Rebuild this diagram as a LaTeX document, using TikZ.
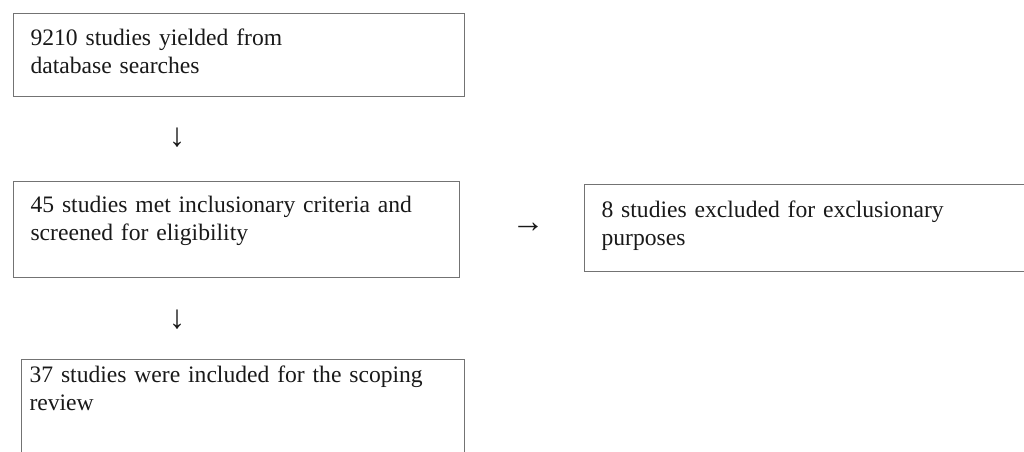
\documentclass[tikz,border=0pt]{standalone}
\usepackage{fontspec}
\setmainfont{Liberation Serif}
\begin{document}
\begin{tikzpicture}[x=1pt,y=-1pt]
\tikzstyle{every node}+=[inner sep=0pt,font=\fontsize{23.6}{28.3}\selectfont,text=black!90]
\tikzstyle{stagebox}=[draw=black!55,line width=1.1pt,anchor=north west,align=left,inner xsep=17pt,inner ysep=0pt]
\tikzstyle{arrowglyph}=[font=\fontsize{33}{33}\selectfont]
\useasboundingbox (0,0) rectangle (1024,451);
\clip (0,0) rectangle (1024,451);
\node [stagebox,text width=417pt,text height=32pt,text depth=51pt] (found) at (13,13) {9210 studies yielded from\\database searches};
\node [arrowglyph] (downA) at (177,138) {↓};
\node [stagebox,text width=412pt,text height=31pt,text depth=65pt] (screened) at (13,181) {45 studies met inclusionary criteria and\\screened for eligibility};
\node [arrowglyph] (rightA) at (528,228) {→};
\node [stagebox,text width=426pt,text height=33pt,text depth=54pt] (excluded) at (584,184) {8 studies excluded for exclusionary\\purposes};
\node [arrowglyph] (downB) at (177,320) {↓};
\node [stagebox,inner xsep=8pt,text width=427pt,text height=23pt,text depth=110pt] (included) at (21,359) {37 studies were included for the scoping\\review};
\end{tikzpicture}
\end{document}
